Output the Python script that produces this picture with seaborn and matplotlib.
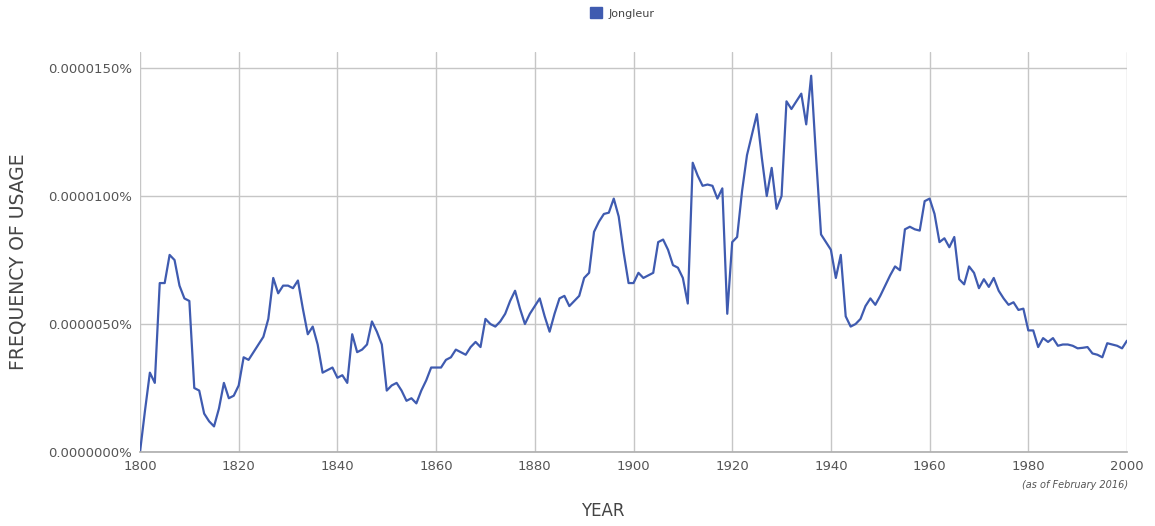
import numpy as np
import pandas as pd
import matplotlib
matplotlib.use("Agg")
import matplotlib.pyplot as plt
import seaborn as sns
from matplotlib.ticker import FuncFormatter
from matplotlib.patches import Patch
from matplotlib import font_manager

# Data: frequency in units of 0.000001 %
years = list(range(1800, 2001))
values = [
    0.0, 1.6, 3.1, 2.7, 6.6, 6.6, 7.7, 7.5, 6.5, 6.0,          # 1800-1809
    5.9, 2.5, 2.4, 1.5, 1.2, 1.0, 1.7, 2.7, 2.1, 2.2,          # 1810-1819
    2.6, 3.7, 3.6, 3.9, 4.2, 4.5, 5.2, 6.8, 6.2, 6.5,          # 1820-1829
    6.5, 6.4, 6.7, 5.6, 4.6, 4.9, 4.2, 3.1, 3.2, 3.3,          # 1830-1839
    2.9, 3.0, 2.7, 4.6, 3.9, 4.0, 4.2, 5.1, 4.7, 4.2,          # 1840-1849
    2.4, 2.6, 2.7, 2.4, 2.0, 2.1, 1.9, 2.4, 2.8, 3.3,          # 1850-1859
    3.3, 3.3, 3.6, 3.7, 4.0, 3.9, 3.8, 4.1, 4.3, 4.1,          # 1860-1869
    5.2, 5.0, 4.9, 5.1, 5.4, 5.9, 6.3, 5.6, 5.0, 5.4,          # 1870-1879
    5.7, 6.0, 5.3, 4.7, 5.4, 6.0, 6.1, 5.7, 5.9, 6.1,          # 1880-1889
    6.8, 7.0, 8.6, 9.0, 9.3, 9.35, 9.9, 9.2, 7.8, 6.6,         # 1890-1899
    6.6, 7.0, 6.8, 6.9, 7.0, 8.2, 8.3, 7.9, 7.3, 7.2,          # 1900-1909
    6.8, 5.8, 11.3, 10.8, 10.4, 10.45, 10.4, 9.9, 10.3, 5.4,   # 1910-1919
    8.2, 8.4, 10.2, 11.6, 12.4, 13.2, 11.5, 10.0, 11.1, 9.5,   # 1920-1929
    10.0, 13.7, 13.4, 13.7, 14.0, 12.8, 14.7, 11.5, 8.5, 8.2,  # 1930-1939
    7.9, 6.8, 7.7, 5.3, 4.9, 5.0, 5.2, 5.7, 6.0, 5.75,         # 1940-1949
    6.1, 6.5, 6.9, 7.25, 7.1, 8.7, 8.8, 8.7, 8.65, 9.8,        # 1950-1959
    9.9, 9.3, 8.2, 8.35, 8.0, 8.4, 6.75, 6.55, 7.25, 7.0,      # 1960-1969
    6.4, 6.75, 6.45, 6.8, 6.3, 6.0, 5.75, 5.85, 5.55, 5.6,     # 1970-1979
    4.75, 4.75, 4.1, 4.45, 4.3, 4.45, 4.15, 4.2, 4.2, 4.15,    # 1980-1989
    4.05, 4.07, 4.1, 3.85, 3.8, 3.7, 4.25, 4.2, 4.15, 4.05,    # 1990-1999
    4.35,                                                      # 2000
]
series_name = "Jongleur"
x_ticks = [1800, 1820, 1840, 1860, 1880, 1900, 1920, 1940, 1960, 1980, 2000]
y_ticks = [0, 5, 10, 15]

df = pd.DataFrame({"year": years, "freq": values})

sns.set_theme(style="white")
plt.rcParams['font.family'] = ['DejaVu Sans']

available = {f.name for f in font_manager.fontManager.ttflist}
narrow = "Liberation Sans Narrow" if "Liberation Sans Narrow" in available else None
if narrow:
    tick_font = dict(family=narrow, size=10.5)
else:
    tick_font = dict(family="DejaVu Sans", size=9.5)

fig = plt.figure(figsize=(11.55, 5.26), dpi=100)
ax = fig.add_axes([140/1155, 1 - 452/526, (1127-140)/1155, (452-52)/526])

line_color = "#3f5bb0"
sns.lineplot(data=df, x="year", y="freq", ax=ax, color=line_color, linewidth=1.6)

ax.set_xlim(1800, 2000)
ax.set_ylim(0, 15 + 16/25.5)
ax.set_xticks(x_ticks)
ax.set_yticks(y_ticks)
ax.yaxis.set_major_formatter(FuncFormatter(lambda v, p: f"{v*1e-6:.7f}%"))
ax.grid(True, color="#c6c6c6", linewidth=1.0)
ax.set_axisbelow(True)
for s in ["top", "right", "left"]:
    ax.spines[s].set_visible(False)
ax.spines["bottom"].set_color("#b0b0b0")
ax.tick_params(axis="both", length=0, colors="#555555")
for lab in ax.get_xticklabels() + ax.get_yticklabels():
    lab.set_fontfamily(tick_font["family"])
    lab.set_fontsize(tick_font["size"])
ax.tick_params(axis="x", pad=6)
ax.tick_params(axis="y", pad=6)

ax.set_xlabel("")
ax.set_ylabel("")
fig.text(18/1155, 1 - 262/526, "FREQUENCY OF USAGE", rotation=90, ha="center", va="center",
         fontsize=13.5, color="#444444")
fig.text(603/1155, 1 - 511/526, "YEAR", ha="center", va="center", fontsize=12, color="#444444")
fig.text(1128/1155, 1 - 485/526, "(as of February 2016)", ha="right", va="center",
         fontsize=7, style="italic", color="#555555")

handles = [Patch(facecolor=line_color, edgecolor=line_color, label=series_name)]
fig.legend(handles=handles, loc="center", bbox_to_anchor=(622/1155, 1 - 13/526), frameon=False,
           fontsize=8, handlelength=1.1, handleheight=1.1, handletextpad=0.6, labelcolor="#444444")

fig.savefig("out.png", dpi=100)
